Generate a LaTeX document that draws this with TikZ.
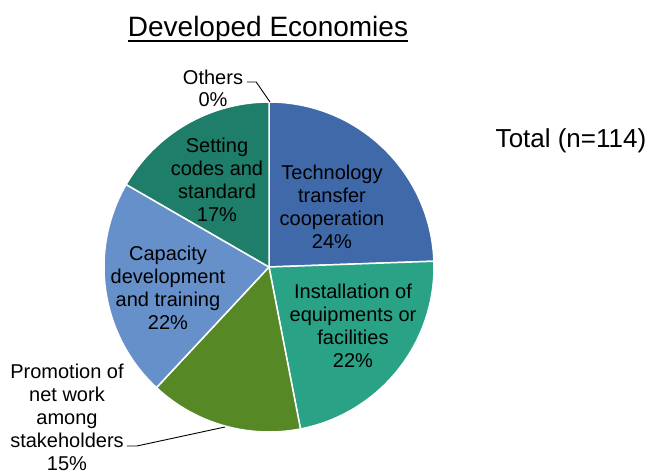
\documentclass[tikz,border=0pt]{standalone}
\usepackage{fontspec}
\setmainfont{Liberation Sans}
\usetikzlibrary{positioning}

\definecolor{techblue}{HTML}{3F69A9}
\definecolor{instteal}{HTML}{2AA286}
\definecolor{promgreen}{HTML}{568825}
\definecolor{capblue}{HTML}{6690C9}
\definecolor{codeteal}{HTML}{1F7E6A}

\tikzset{
  slice/.style={draw=white, line width=1.5pt},
  pielabel/.style={align=center, inner sep=0pt, font=\fontsize{20}{23}\selectfont},
  leader/.style={draw=black, line width=0.9pt}
}

\begin{document}
\begin{tikzpicture}[x=1pt, y=1pt]

        % page frame
        \useasboundingbox (0,0) rectangle (649,473);

        \coordinate (c) at (269,206);

        % Slices, clockwise from the top
        % Technology transfer
        \fill[techblue, slice] (c) -- ++(90:165) arc[start angle=90, end angle=2, radius=165] -- cycle;
        % Installation
        \fill[instteal, slice] (c) -- ++(2:165) arc[start angle=2, end angle=-79, radius=165] -- cycle;
        % Promotion of network
        \fill[promgreen, slice] (c) -- ++(-79:165) arc[start angle=-79, end angle=-133, radius=165] -- cycle;
        % Capacity development
        \fill[capblue, slice] (c) -- ++(-133:165) arc[start angle=-133, end angle=-210, radius=165] -- cycle;
        % Setting codes
        \fill[codeteal, slice] (c) -- ++(-210:165) arc[start angle=-210, end angle=-270, radius=165] -- cycle;

        % Title and total
        \node[anchor=base, inner sep=0pt, font=\fontsize{28}{32}\selectfont] (title) at (268,436) {Developed Economies};
        \draw[line width=2.5pt] ([yshift=-4pt]title.base west) -- ([yshift=-4pt]title.base east);
        \node[anchor=base, inner sep=0pt, font=\fontsize{26}{30}\selectfont] (total) at (571,325) {Total (n=114)};

        % Slice labels
        \node[pielabel] (tech) at (332,266) {Technology\\transfer\\cooperation\\24\%};
        \node[pielabel] (inst) at (353,147) {Installation of\\equipments or\\facilities\\22\%};
        \node[pielabel] (codes) at (217,293) {Setting\\codes and\\standard\\17\%};
        \node[pielabel] (cap) at (168,185) {Capacity\\development\\and training\\22\%};
        \node[pielabel] (prom) at (67,56) {Promotion of\\net work\\among\\stakeholders\\15\%};
        \node[pielabel, font=\fontsize{20}{22}\selectfont] (others) at (213,385) {Others\\0\%};

        % Leader lines
        \coordinate (otherstip) at (270,371);
        \coordinate (promtip) at (225,46);
        \draw[leader] ([xshift=4pt]others.east |- 0,391) -- ++(9,0) -- (otherstip);
        \draw[leader] ([xshift=3pt]prom.east |- 0,27) -- ++(10,0) -- (promtip);

\end{tikzpicture}
\end{document}
